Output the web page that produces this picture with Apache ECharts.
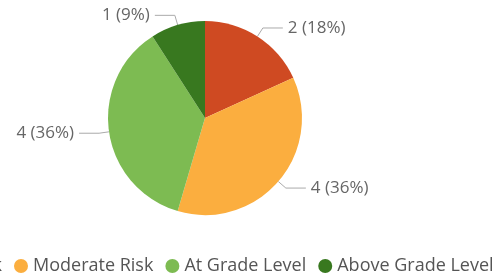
<!DOCTYPE html>
<html>
<head>
<meta charset="utf-8">
<script src="https://cdn.jsdelivr.net/npm/echarts@6/dist/echarts.min.js"></script>
<style>
  html, body { margin: 0; padding: 0; background: #fff; }
  #box { width: 503px; height: 279px; }
</style>
</head>
<body>
<div id="box"></div>
<script>
// data
var categories = ['High Risk', 'Moderate Risk', 'At Grade Level', 'Above Grade Level']
var counts = [2, 4, 4, 1]
var colors = ['#CF4A22', '#FBAE3F', '#7DBB52', '#38781F']

var total = counts.reduce(function (a, b) { return a + b }, 0)

var pieData = []
for (var i = 0; i < categories.length; i++) {
    pieData.push({ name: categories[i], value: counts[i], itemStyle: { color: colors[i] } })
}

var MyChart = echarts.init(document.getElementById('box'))

var option = {
    animation: false,
    legend: {
        bottom: -1,
        left: -99,
        icon: 'circle',
        itemWidth: 14,
        itemHeight: 14,
        itemGap: 12,
        textStyle: {
            color: '#555',
            fontSize: 18,
            fontFamily: 'Open Sans'
        },
        data: categories
    },
    series: [{
        type: 'pie',
        center: [205, 118],
        radius: 97,
        startAngle: 90,
        data: pieData,
        label: {
            color: '#666',
            fontSize: 17,
            fontFamily: 'Open Sans',
            formatter: function (p) {
                return p.value + ' (' + Math.round(p.value / total * 100) + '%)'
            }
        },
        labelLine: {
            length: 10,
            length2: 20,
            lineStyle: { color: '#aaa', width: 1 }
        }
    }]
}

MyChart.setOption(option)
</script>
</body>
</html>
